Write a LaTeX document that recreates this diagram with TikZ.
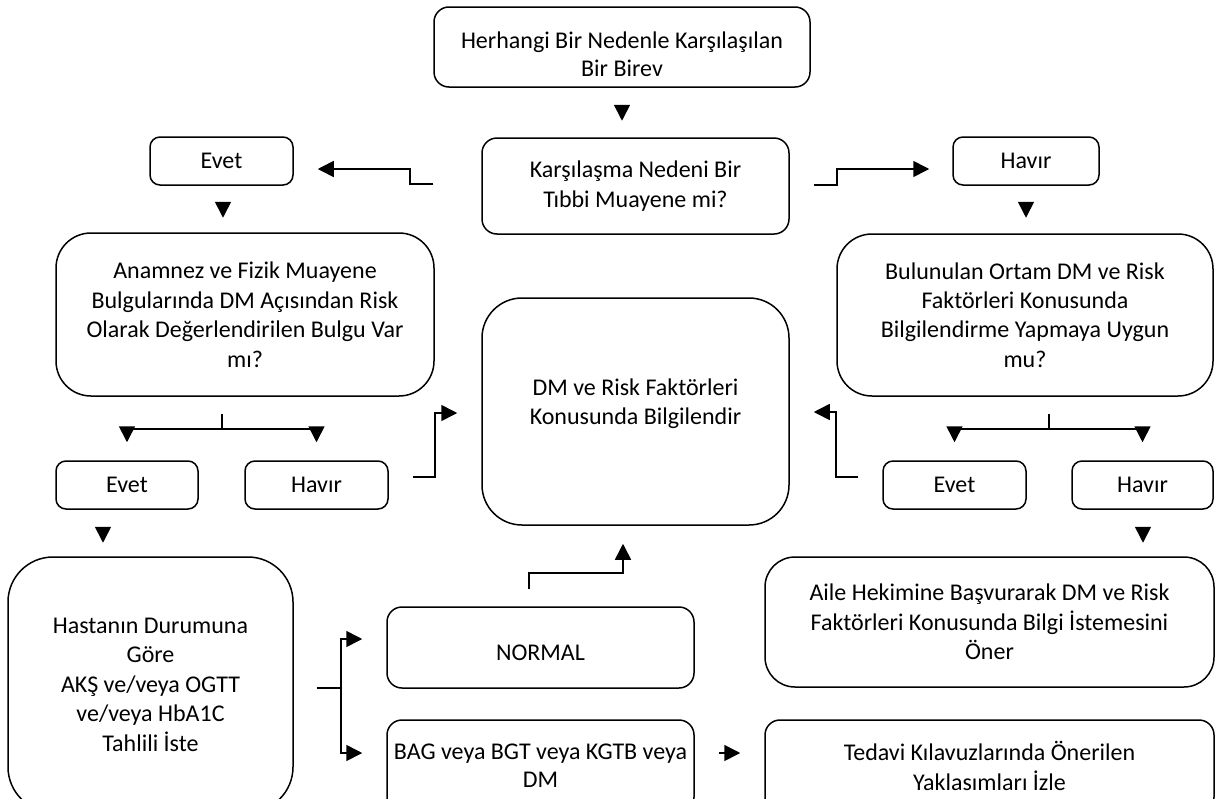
\documentclass[tikz,border=0pt]{standalone}
\usepackage{fontspec}
\setmainfont{Carlito}
\usetikzlibrary{arrows.meta,calc}
\begin{document}
\begin{tikzpicture}[x=1pt,y=-1pt,
  box/.style={draw, line width=1.5pt, rounded corners=#1, align=center, inner sep=0pt,
    font=\fontsize{24}{29.5}\selectfont},
  box/.default=10pt,
  lbl/.style={align=center, inner sep=0pt, font=\fontsize{24}{29.5}\selectfont},
  conn/.style={line width=1.6pt},
  arr/.style={line width=1.6pt, -{Triangle[length=16pt,width=16pt]}}]
\useasboundingbox (0,0) rectangle (1215,798);
\clip (0,0) rectangle (1215,798);

% nodes
\node[box=15pt, minimum width=376pt, minimum height=80pt,
  label={[lbl, yshift=-7pt, font=\fontsize{24}{28}\selectfont]center:Herhangi Bir Nedenle Karşılaşılan\\Bir Birev}] (top) at (622,47) {};
\node[box=15pt, minimum width=307pt, minimum height=96pt] (q1) at (635.5,186) {Karşılaşma Nedeni Bir\\Tıbbi Muayene mi?};
\node[box, minimum width=143pt, minimum height=48pt] (evet1) at (221.5,161) {Evet};
\node[box, minimum width=146pt, minimum height=48pt] (havir1) at (1026,161) {Havır};
\node[box=35pt, minimum width=378pt, minimum height=163pt] (q2) at (245,314.5) {Anamnez ve Fizik Muayene\\Bulgularında DM Açısından Risk\\Olarak Değerlendirilen Bulgu Var\\mı?};
\node[box=35pt, minimum width=376pt, minimum height=162pt] (q3) at (1025,315) {Bulunulan Ortam DM ve Risk\\Faktörleri Konusunda\\Bilgilendirme Yapmaya Uygun\\mu?};
\node[box=40pt, minimum width=307pt, minimum height=227pt,
  label={[lbl, yshift=8pt]center:DM ve Risk Faktörleri\\Konusunda Bilgilendir}] (info) at (635.5,411.5) {};
\node[box, minimum width=142pt, minimum height=48pt] (evet2) at (127,485) {Evet};
\node[box, minimum width=143pt, minimum height=48pt] (havir2) at (316.5,485) {Havır};
\node[box, minimum width=143pt, minimum height=48pt] (evet3) at (954.5,485) {Evet};
\node[box, minimum width=141pt, minimum height=48pt] (havir3) at (1142.5,485) {Havır};
\node[box=45pt, minimum width=285pt, minimum height=255pt] (hasta) at (150.5,684.5) {Hastanın Durumuna\\Göre\\AKŞ ve/veya OGTT\\ve/veya HbA1C\\Tahlili İste};
\node[box=15pt, minimum width=307pt, minimum height=81pt,
  label={[lbl, yshift=-5pt]center:NORMAL}] (normal) at (540.5,647.5) {};
\node[box=15pt, minimum width=307pt, minimum height=92pt, font=\fontsize{24}{28}\selectfont] (bag) at (540.5,766) {BAG veya BGT veya KGTB veya\\DM};
\node[box=30pt, minimum width=449pt, minimum height=130pt] (aile) at (989.5,622) {Aile Hekimine Başvurarak DM ve Risk\\Faktörleri Konusunda Bilgi İstemesini\\Öner};
\node[box=15pt, minimum width=449pt, minimum height=92pt] (tedavi) at (989.5,766) {Tedavi Kılavuzlarında Önerilen\\Yaklasımları İzle};

% connectors
\draw[arr] ($(top.south)+(0,17)$) -- ($(top.south)+(0,33)$);
\draw[arr] ($(q1.west)+(-48,-2)$) -- ++(-23,0) -- ++(0,-15) -- ($(evet1.east)+(24,8)$);
\draw[arr] ($(q1.east)+(24,-1)$) -- ++(23,0) -- ++(0,-16) -- ($(havir1.west)+(-23,8)$);
\draw[arr] ($(evet1.south)+(1.5,16)$) -- ($(evet1.south)+(1.5,32)$);
\draw[arr] ($(havir1.south)+(0,16)$) -- ($(havir1.south)+(0,32)$);

\draw[conn] ($(q2.south)+(-23,17)$) -- ++(0,15) coordinate (f1);
\draw[arr] (f1) -| ($(evet2.north)+(0,-18)$);
\draw[arr] (f1) -| ($(havir2.north)+(0,-18)$);
\draw[conn] ($(q3.south)+(24,17)$) -- ++(0,15) coordinate (f2);
\draw[arr] (f2) -| ($(evet3.north)+(0,-18)$);
\draw[arr] (f2) -| ($(havir3.north)+(0,-18)$);

\draw[arr] ($(havir2.east)+(24,-8)$) -- ++(22,0) |- ($(info.west)+(-24,1.5)$);
\draw[arr] ($(evet3.west)+(-24,-8)$) -- ++(-22,0) |- ($(info.east)+(24,0.5)$);

\draw[arr] ($(evet2.south)+(-24,17)$) -- ($(evet2.south)+(-24,33)$);
\draw[arr] ($(havir3.south)+(0.5,17)$) -- ($(havir3.south)+(0.5,33)$);

\draw[conn] ($(hasta.east)+(23,3.5)$) -- ++(24,0) coordinate (f3);
\draw[arr] (f3) |- ($(normal.west)+(-24,-8.5)$);
\draw[arr] (f3) |- ($(bag.west)+(-24,-13)$);

\draw[arr] ($(normal.north)+(-11.5,-17)$) -- ++(0,-16) -| ($(info.south)+(-12.5,18)$);
\draw[arr] ($(bag.east)+(24,-13)$) -- ($(tedavi.west)+(-24,-13)$);
\end{tikzpicture}
\end{document}
